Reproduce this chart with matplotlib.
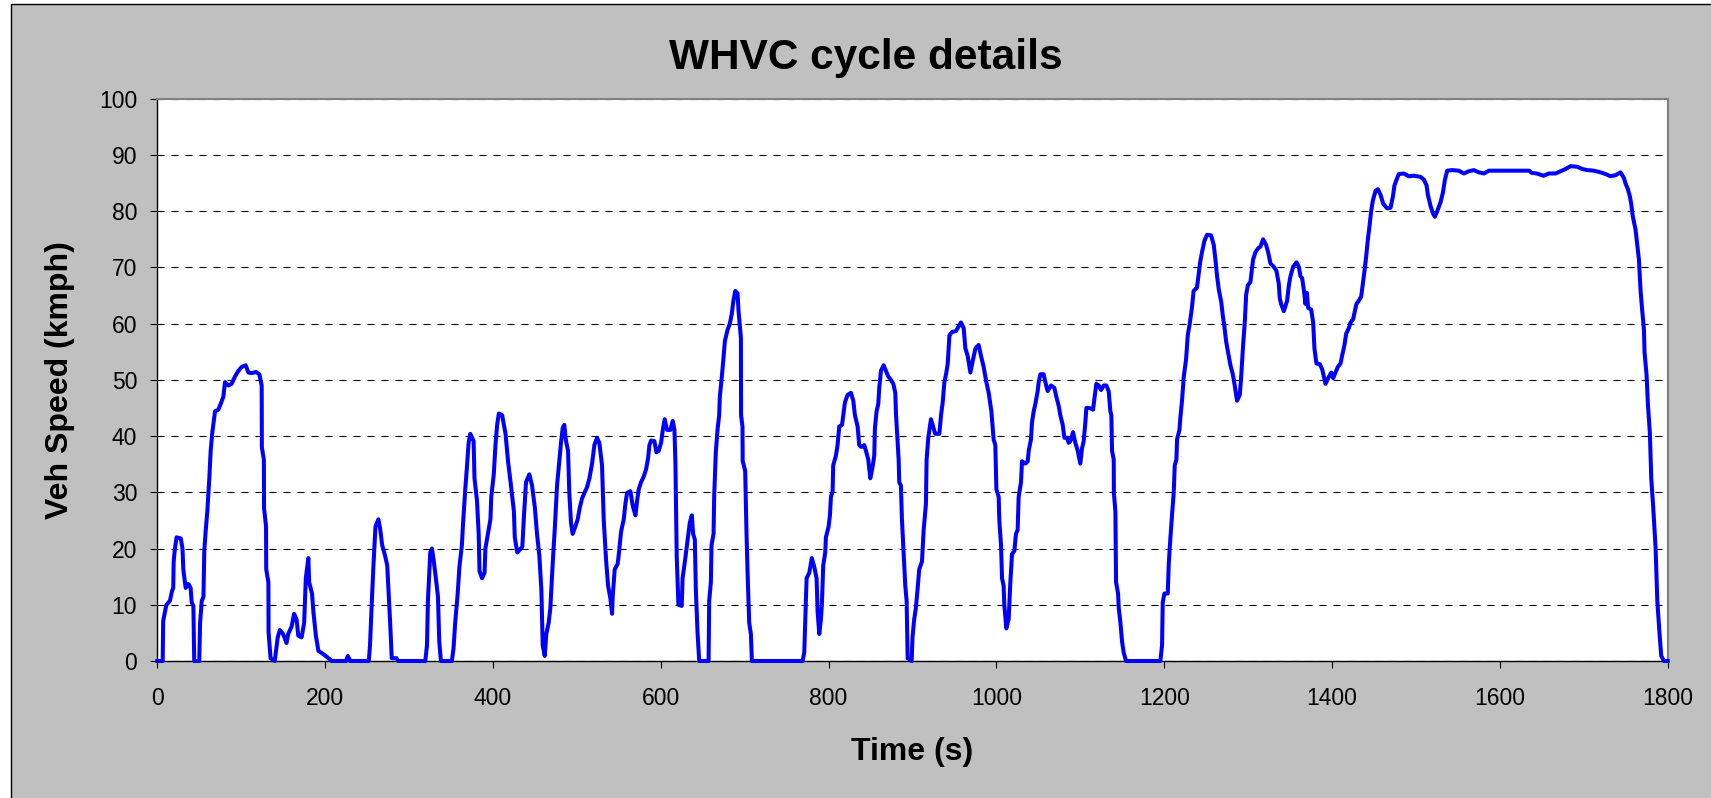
import matplotlib
matplotlib.use('Agg')
import matplotlib.pyplot as plt
from matplotlib.patches import Rectangle

plt.rcParams['font.family'] = ['Liberation Sans', 'DejaVu Sans']

# WHVC speed trace, breakpoints (time s, speed km/h)
time_s = [
    0, 6.4, 7, 10, 11, 15, 16, 17.5, 19, 19.5, 21, 23, 28, 30, 31, 33.8, 37, 39.7, 41, 43, 44, 50,
    51, 53, 55, 56, 57.6, 59.6, 62, 63.6, 65.6, 68.8, 72.7, 75.5, 78.7, 80.7, 84.7, 88.6, 92.6,
    96.6, 100.6, 105.3, 108.5, 112.5, 117.6, 121.6, 124.4, 124.6, 127, 127.2, 129.6, 129.8, 132.4,
    132.6, 135, 140,
    143.5, 146, 150, 154, 156, 160, 163, 166, 168, 172, 175, 177, 180, 181, 184.4, 186, 189, 192,
    198, 204, 208, 225, 227, 230, 252,
    253.5, 255.5, 257.5, 260, 263.5, 265.5, 268, 271.5, 274, 275.5, 277.5, 279.4, 285, 287, 319.4,
    321.4, 322.5, 325.3, 327.3, 329.3, 332, 334.5, 336, 338, 351,
    353, 355, 358, 360, 363, 364.3, 367, 369, 371, 373, 377, 378, 381, 383, 384, 387, 390, 391, 394,
    397, 398, 401, 403, 405, 407, 411, 415, 418, 421, 425, 426, 429, 435, 437, 439.4, 443.4, 446.6,
    450, 452.5, 455.3, 457.7, 459.3, 461.7, 463.6, 466.4, 468.4, 471.2, 473.6, 476.4, 479.2, 481.1,
    483.1, 485, 487.1, 489.5, 491, 493, 495, 498.2, 501, 503.4, 506.2, 509, 512.1, 515, 518.1,
    520.9, 524, 526.8, 530, 532, 534.8, 537.2, 540, 542, 542.7, 545.1, 548.7, 550.7, 552.7, 555.9,
    557.8, 559.8, 563.8, 566.6, 569.8, 571.8, 573.7, 576.5, 579.7, 582.5, 584.9, 586.5, 588.5,
    592.4, 594.8, 597.6, 600.4, 602.4, 604.7, 607.5, 611.5, 614.3, 616.3, 617.5, 619, 621,
    625, 626, 629, 632, 634.6, 637, 638.6, 640.6, 641.8, 643.8, 645.8, 657, 657.7, 659.7, 660.5,
    662.9, 663.7, 665.6, 667.6, 669.6, 670.4, 672.8, 674.4, 676.4, 679.6, 682.3, 684.7, 686.3,
    688.7, 691.5, 692.7, 695.5, 695.7, 697.4, 697.6, 700.6, 702.2, 703.4, 705.4, 707.4, 708.6, 769,
    771, 772.2, 773.8, 777, 780, 783, 785.7, 786.9, 788.9, 790.8, 792, 793.6, 796, 796.8, 800,
    801.6, 802.8, 804.8, 805.5, 808.7, 810.7, 812.7, 816, 817.5, 819.5, 822.6, 826.6, 829.4, 831.4,
    834.6, 836.5, 838.5, 840.5, 842.5, 844.5, 847.3, 849.7, 852.4, 854.4, 855.2, 857.2, 859.2,
    860.4, 862.4, 865.6, 868.3, 871.1, 874.3, 877.1, 879.5, 880.3, 883.5, 884.2, 886.2, 887.4,
    889.4, 891.4, 893, 894.2, 899, 900, 902, 904, 906, 908, 911.3, 913.3, 916, 916.8, 918.8, 922,
    924, 927, 932, 934, 936, 938, 940, 942, 944, 947, 952, 955, 957.8, 961, 963, 965.7, 969, 971.7,
    975, 978.8, 981.6, 984.8, 988, 990.8, 994, 996.7, 998.7, 1000, 1002.7, 1003.5, 1005.5, 1006.7,
    1008.6, 1009.4, 1011.8, 1014.6, 1016.6, 1018.6, 1021.4, 1023.3, 1025.3, 1026.5, 1029.3, 1030.5,
    1034.5, 1037.3, 1038.5, 1041.2, 1042.4, 1044.4, 1046.4, 1049.2, 1050.4, 1052.4, 1056.3, 1058.3,
    1061.1, 1065.1, 1069, 1071.4, 1074.2, 1076.2, 1079, 1081, 1084.2, 1086.1, 1088.1, 1091.3,
    1094.1, 1096.9, 1100, 1102, 1104, 1106, 1107.2, 1111.2, 1115.2, 1116.8, 1119.1, 1121.9, 1124.7,
    1127.9, 1131, 1133.8, 1135.8, 1137, 1137.8, 1139.8, 1140, 1141.8, 1142.6, 1145, 1145.8, 1147.8,
    1149.7, 1151.7, 1154.5, 1195.4, 1197.4, 1198.2, 1200.2, 1204.2, 1205.4, 1207.4, 1209.4, 1211.3,
    1212.5, 1214.5, 1215.3, 1218.1, 1219.3, 1221.2, 1223.3, 1226, 1228, 1230.4,
    1233, 1235, 1239, 1241, 1243, 1245, 1247.9, 1251, 1255.8, 1259, 1261, 1263, 1265, 1268, 1269.7,
    1271.7, 1273.7, 1275.7, 1278.9, 1281.7, 1284, 1286.8, 1290, 1291.6, 1294, 1296, 1297.6, 1299.6,
    1302.7, 1305.9, 1308.7, 1311.9, 1314.7, 1317.8, 1321.4, 1323.8, 1326.6, 1330.6, 1333.7, 1336.5,
    1337.7, 1339.3, 1342.5, 1346.5, 1348.5, 1350.4, 1353.6, 1357.6, 1360.4, 1362.4, 1364.3, 1366.3,
    1368.3, 1370, 1371.5, 1375.1, 1377.5, 1379, 1381.4, 1385.4, 1388.2, 1390.2, 1392.2, 1395.4,
    1399, 1401.3, 1404.1, 1406.9, 1410.1, 1412, 1414.8, 1416.8, 1420, 1422, 1425.2, 1427.1, 1429.1,
    1431.9, 1434.7, 1436.7, 1438.7, 1440.7, 1442.7, 1444.6, 1446.6, 1448.6, 1451.8, 1454.6, 1457.8,
    1461, 1465.7, 1469.7, 1472.5, 1474.4, 1477.6, 1479.6, 1485.6, 1491.5, 1497.5, 1505.4, 1509.4,
    1512.6, 1514.2, 1517.4, 1520.2, 1522.5, 1525.3, 1529.3, 1532.1, 1534.5, 1537.2, 1543, 1551,
    1557, 1563, 1569, 1575, 1581, 1587, 1597, 1609, 1623, 1635, 1638, 1644, 1652, 1658.4, 1666.3,
    1672.3, 1678.3, 1684.2, 1692.2, 1698.1, 1704.1, 1712, 1720, 1726, 1732, 1737.9, 1743.8, 1747.8,
    1749.8, 1752.6, 1755, 1756.5, 1758.5, 1761.7, 1763.7, 1765.7, 1767.7, 1769.7, 1771.7, 1772.4,
    1774.8, 1776.4, 1778.8, 1780.4, 1782.8, 1785.6, 1787.6, 1790.3, 1792.3, 1795.5, 1800,
]
speed_kmph = [
    0, 0, 7.1, 9.4, 10, 10.7, 11.4, 12.4, 13, 17.7, 20, 22, 21.8, 20, 16.3, 13, 13.7, 13, 10.4, 9.8, 0, 0,
    6.8, 10.7, 11.4, 19.6, 23, 26.6, 32.5, 37.4, 40.7, 44.4, 44.7, 45.7, 47, 49.6, 49, 49.3, 50.6,
    51.6, 52.3, 52.6, 51.3, 51.2, 51.4, 51, 49, 38, 35.8, 27.2, 23.9, 16.3, 14,
    5.1, 0.5, 0,
    4.2, 5.5, 4.8, 3.2, 4.8, 6.1, 8.4, 7.4, 4.5, 4.2, 6.8, 14.7, 18.3, 14, 12, 8.8, 4.5, 1.8,
    1.2, 0.5, 0, 0, 0.9, 0, 0,
    2.8, 10, 16.7, 23.9, 25.2, 23.6, 20.6, 18.7, 17, 12.7, 6.8, 0.5, 0.5, 0, 0,
    2.8, 10.7, 19.3, 20, 18, 14.7, 11.4, 3.5, 0, 0,
    2.2, 6.8, 12, 16.7, 20.6, 24.3, 30.5, 34.5, 38.8, 40.4, 39.1, 32.5, 28.5, 22.6, 16, 14.7, 15.7, 20, 22.6,
    25.2, 29.2, 33.2, 38.4, 42, 44, 43.7, 40.4, 35.5, 31.8, 26.6, 22, 19.3, 20.3, 25.9, 31.8, 33.2, 31.2,
    27.2, 22.6, 18.7, 12.7, 2.8, 0.9, 4.8, 6.8, 9.4, 17.3, 23.3, 31.2, 35.8, 38.8,
    41.4, 42, 39.1, 37.4, 29.9, 24.6, 22.6, 23.9, 25.2, 27.2, 28.9, 29.9, 30.9, 32.5, 35.1,
    38.4, 39.7, 38.8, 34.8, 25.2, 18, 13.4, 11.1, 8.4, 11.4, 16.3, 17.3, 20, 23, 25.2,
    27.9, 29.9, 30.2, 27.6, 25.9, 28.5, 30.5, 31.8, 32.8, 34.1, 36.1, 38.4, 39.2,
    39.1, 37.1, 37.4, 38.8, 41.1, 43, 41.1, 41.1, 42.7, 41.1, 35.1, 18.7, 10,
    9.8, 14.7, 18, 21.6, 24.6, 25.9, 22.6, 21.6, 12.7, 5.1, 0, 0, 10.7, 14, 20.6,
    22.6, 29.5, 37.1, 41.1, 43.7, 47, 50.6, 53.3, 56.9, 58.9, 60, 61.8, 63.8,
    65.8, 65.4, 62.2, 57.5, 43.7, 41.7, 35.6, 33.8, 22.6, 16, 6.8, 4.8, 0, 0,
    1.5, 7.4, 14.7, 15.7, 18.3, 16.7, 14.7, 8.8, 4.8, 7.4, 10, 17, 19.3, 22, 23.9,
    25.9, 29.2, 30.2, 34.8, 36.5, 38.4, 41.7, 42, 43.7, 46, 47.3, 47.7, 46.3, 43.7,
    41.7, 38.4, 38.1, 38.1, 38.4, 37.4, 35.8, 32.5, 34.5, 36.5, 41.4, 44.4, 45.7,
    48.6, 51.6, 52.6, 51.6, 50.6, 50, 49.3, 47.7, 44, 35.8, 31.8, 31.2, 25.2,
    19.3, 13.4, 10.7, 0.5, 0, 4.2, 7.4, 9.4, 12.7, 16.3, 17.7, 23.3, 27.9, 35.8, 39.7, 43,
    42, 40.4, 40.4, 43.7, 46, 49.6, 51, 52.9, 57.9, 58.5, 58.7, 59.5, 60.2, 59.2, 55.6, 54.3, 51.3, 53.3,
    55.6, 56.2, 54.3, 52.3, 49.6, 47.7, 44.4, 39.4, 38.4, 30.5, 29.2, 24.9, 20.6, 14.7,
    13.4, 10, 5.8, 7.4, 14, 19, 19.6, 22.6, 23.3, 29.2, 31.8, 35.5,
    35.1, 35.5, 37.4, 39.4, 42.4, 44.4, 45.7, 48, 49.6, 51, 51, 49.6,
    48, 49, 48.6, 47, 45.4, 43.7, 42, 39.7, 39.7, 38.8, 39.1, 40.7,
    38.8, 37.4, 35.1, 37.8, 39.1, 42.4, 45, 45, 44.7, 46.7, 49.3, 49, 48.2,
    49, 49, 48, 44.4, 43.7, 37.4, 35.8, 29.9, 26.6, 14, 12, 9.4, 6.8,
    3.5, 1.5, 0, 0, 2.8, 10.4, 12, 12, 17.3, 22, 26.2, 29.9,
    34.8, 35.8, 39.4, 41.1, 43.4, 46.3, 50.6, 53.6, 57.9, 60,
    62.8, 65.8, 66.4, 68.8, 71.1, 72.7, 74.7, 75.8, 75.7, 74, 71.4, 68.4, 66.1, 63.8, 61.5,
    59.5, 56.9, 55.2, 52.6, 51, 49, 46.3, 47.3, 50.3, 56.2, 60.2, 65.1, 66.8,
    67.4, 71.4, 72.7, 73.4, 73.7, 75, 74, 72.7, 70.7, 70.1, 69.4, 67.1,
    64.5, 63.5, 62.2, 64.1, 66.8, 68.4, 70.1, 70.9, 70.1, 68.4, 68.1, 66.1,
    63.5, 65.5, 62.8, 62.5, 60.2, 55.6, 52.9, 52.8, 51.9, 50.6, 49.3, 50.3,
    51.3, 50.3, 51.3, 52.3, 52.9, 54.3, 56.2, 58.2, 59.2, 60.2, 60.8, 62.2, 63.5,
    64.1, 64.8, 67.1, 69.4, 72, 75, 77.3, 80, 81.9, 83.6, 83.9, 82.9,
    81.3, 80.5, 80.6, 82.6, 84.6, 85.9, 86.6, 86.7, 86.2, 86.3, 86.1, 85.6,
    84.6, 82.9, 80.9, 79.6, 79, 80, 81.6, 83.3, 85.6, 87.2, 87.3, 87.2,
    86.7, 87.1, 87.3, 86.9, 86.7, 87.2, 87.2, 87.2, 87.2, 87.2, 86.8, 86.7, 86.3, 86.7, 86.7,
    87.1, 87.5, 88, 87.9, 87.5, 87.3, 87.2, 86.9, 86.6, 86.2, 86.4, 86.9, 85.9,
    84.9, 83.9, 82.6, 81.3, 79, 76.7, 74, 71.4, 65.8, 62.2, 58.9, 54.9,
    50.9, 45.7, 40.4, 32.5, 27.2, 20, 10.7, 4.8, 0.9, 0, 0,
]

x_ticks = list(range(0, 1801, 200))
y_ticks = list(range(0, 101, 10))

W, H = 1711, 798
fig = plt.figure(figsize=(W / 100, H / 100), dpi=100, facecolor='white')

# grey chart area with thin black border (runs off right/bottom edge)
fig.add_artist(Rectangle((11 / W, -0.1), 1.2, 1 - 4.3 / H + 0.1, transform=fig.transFigure,
                         facecolor='#c0c0c0', edgecolor='black', linewidth=1, zorder=-10))

ax = fig.add_axes([157.3 / W, 1 - 661 / H, (1667.7 - 157.3) / W, (661 - 98.7) / H])
ax.set_facecolor('white')

ax.plot(time_s, speed_kmph, color='#0000ff', linewidth=2.9, clip_on=False, zorder=3)

ax.set_xlim(0, 1800)
ax.set_ylim(0, 100)
ax.set_xticks(x_ticks)
ax.set_yticks(y_ticks)
ax.tick_params(axis='both', direction='out', length=5, width=0.8, color='black',
               labelsize=16.5, labelcolor='black')
ax.tick_params(axis='x', pad=14)
ax.tick_params(axis='y', pad=9.5)

ax.yaxis.grid(True, color='black', linewidth=0.8, linestyle=(0, (6.3, 6.3)))
ax.set_axisbelow(True)

for side in ['left', 'bottom']:
    ax.spines[side].set_color('black')
    ax.spines[side].set_linewidth(1)
for side in ['top', 'right']:
    ax.spines[side].set_color('#808080')
    ax.spines[side].set_linewidth(1.5)

fig.text(865.5 / W, 1 - 69.3 / H, 'WHVC cycle details', ha='center', va='baseline',
         fontsize=30.5, fontweight='bold')
fig.text(912 / W, 1 - 760 / H, 'Time (s)', ha='center', va='baseline',
         fontsize=23, fontweight='bold')
fig.text(60 / W, 1 - 379.8 / H, 'Veh Speed (kmph)', ha='center', va='center', rotation=90,
         fontsize=23, fontweight='bold')

fig.savefig('out.png', dpi=100, facecolor=fig.get_facecolor())
